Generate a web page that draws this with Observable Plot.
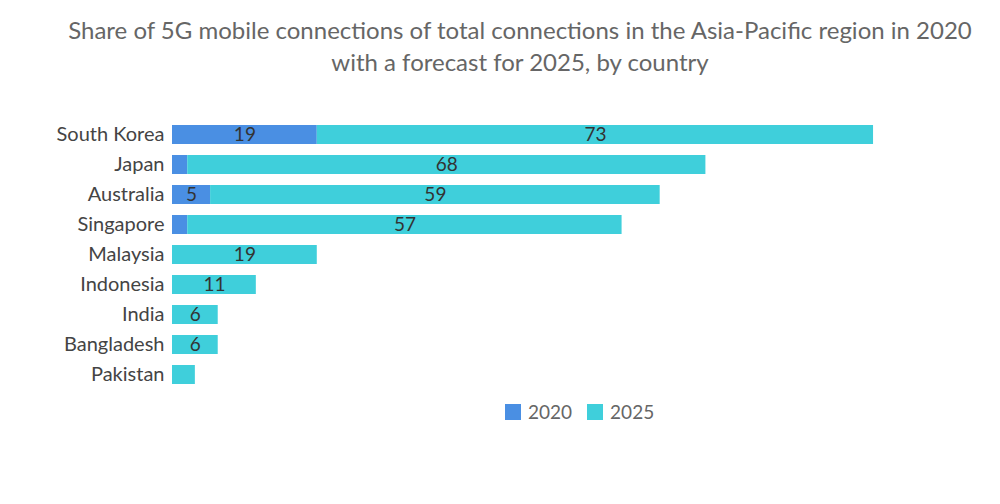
<!DOCTYPE html>
<html>
<head>
<meta charset="utf-8">
<script src="https://cdn.jsdelivr.net/npm/d3@7"></script>
<script src="https://cdn.jsdelivr.net/npm/@observablehq/plot@0.6"></script>
<style>
  body { margin: 0; background: #fff; font-family: Lato, "Noto Sans", sans-serif; }
  #title { width: 1000px; height: 95px; box-sizing: border-box; padding-top: 14px; padding-left: 40px; text-align: center; color: #666; font-size: 24px; line-height: 32px; }
  #legend { position: relative; width: 1000px; height: 30px; margin-top: 3px; font-size: 19px; color: #666; }
  #legend .inner { position: absolute; left: 505px; display: flex; align-items: center; gap: 0; }
  #legend .sw { display: inline-block; width: 16px; height: 16px; margin-right: 7px; }
  #legend .item { display: flex; align-items: center; margin-right: 15px; }
</style>
</head>
<body>
<div id="title">Share of 5G mobile connections of total connections in the Asia-Pacific region in 2020<br>with a forecast for 2025, by country</div>
<div id="chart"></div>
<div id="legend"><div class="inner"></div></div>
<script>
const countries = ["South Korea", "Japan", "Australia", "Singapore", "Malaysia", "Indonesia", "India", "Bangladesh", "Pakistan"];
const values2020 = [19, 2, 5, 2, 0, 0, 0, 0, 0];
const values2025 = [73, 68, 59, 57, 19, 11, 6, 6, 3];
const years = ["2020", "2025"];
const colors = ["#4a8fe3", "#3fcfdb"];

const data = [];
countries.forEach((c, i) => {
  data.push({country: c, year: "2020", value: values2020[i]});
  data.push({country: c, year: "2025", value: values2025[i]});
});

const chart = Plot.plot({
  width: 1000,
  height: 302,
  marginLeft: 172,
  marginRight: 66,
  marginTop: 17,
  marginBottom: 0,
  style: {fontFamily: "Lato, 'Noto Sans', sans-serif", fontSize: "18px", color: "#444"},
  x: {domain: [0, 100], axis: null},
  y: {domain: countries, padding: 0.37, label: null, tickSize: 0, tickPadding: 8},
  color: {domain: years, range: colors},
  marks: [
    Plot.barX(data, Plot.stackX({x: "value", y: "country", fill: "year", order: years})),
    Plot.text(data, Plot.stackX({x: "value", y: "country", z: "year", order: years,
      text: d => d.value >= 5 ? String(d.value) : "", fill: "#333", fontSize: 19})),
    Plot.axisY({tickSize: 0, tickPadding: 8, fontSize: 20, label: null, color: "#444"})
  ]
});
document.getElementById("chart").appendChild(chart);

const inner = document.querySelector("#legend .inner");
years.forEach((y, i) => {
  const item = document.createElement("div");
  item.className = "item";
  item.innerHTML = `<span class="sw" style="background:${colors[i]}"></span><span>${y}</span>`;
  inner.appendChild(item);
});
</script>
</body>
</html>
